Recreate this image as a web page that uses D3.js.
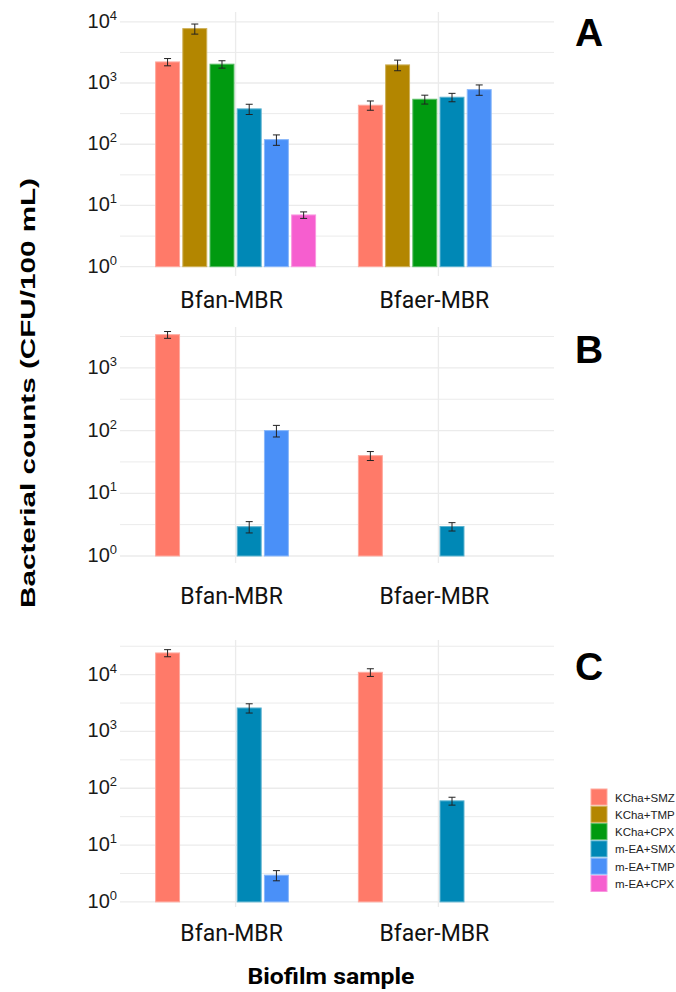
<!DOCTYPE html>
<html>
<head>
<meta charset="utf-8">
<script src="https://cdn.jsdelivr.net/npm/d3@7"></script>
<style>
body { margin: 0; background: #fff; }
.grid line { stroke: #ebebeb; }
.tick-lab { font-family: "Liberation Sans", Arial, sans-serif; fill: #1a1a1a; }
.cat-lab { font-family: Roboto, sans-serif; fill: #111; }
</style>
</head>
<body>
<svg width="676" height="992"></svg>
<script>

// categories
var samples = ["Bfan-MBR", "Bfaer-MBR"];
var treatments = ["KCha+SMZ", "KCha+TMP", "KCha+CPX", "m-EA+SMX", "m-EA+TMP", "m-EA+CPX"];
var colors = ["#ff7a69", "#b38600", "#009a10", "#0088b6", "#4a90f8", "#f65ecf"];

// panel A (means and sd, CFU/100 mL), null = no bar
var aBfan = [2210, 7740, 2030, 378, 119, 7.0];
var aBfanSd = [300, 1450, 280, 72, 23, 0.85];
var aBfaer = [434, 1977, 543, 586, 780, null];
var aBfaerSd = [75, 390, 90, 92, 150, null];

// panel B
var bBfan = [3380, null, null, 2.93, 100, null];
var bBfanSd = [420, null, null, 0.6, 21, null];
var bBfaer = [39.8, null, null, 2.95, null, null];
var bBfaerSd = [6.5, null, null, 0.45, null, null];

// panel C
var cBfan = [24100, null, null, 2590, 2.95, null];
var cBfanSd = [3450, null, null, 480, 0.6, null];
var cBfaer = [11000, null, null, 60, null, null];
var cBfaerSd = [1700, null, null, 9.5, null, null];

var svg = d3.select("svg");
var plotLeft = 120, plotRight = 554;

var panels = [
  {letter: "A", top: 12, bottom: 276, lo: -0.152, hi: 4.16, labY: 308, letY: 46,
   means: [aBfan, aBfaer], sds: [aBfanSd, aBfaerSd]},
  {letter: "B", top: 327, bottom: 563, lo: -0.112, hi: 3.652, labY: 604, letY: 363,
   means: [bBfan, bBfaer], sds: [bBfanSd, bBfaerSd]},
  {letter: "C", top: 640, bottom: 907, lo: -0.09, hi: 4.61, labY: 941, letY: 680,
   means: [cBfan, cBfaer], sds: [cBfanSd, cBfaerSd]}
];

var x = d3.scalePoint().domain(samples).range([plotLeft, plotRight]).padding(0.57);
var xin = d3.scaleBand().domain(treatments).range([-80, 80]).paddingInner(0.12);
var color = d3.scaleOrdinal().domain(treatments).range(colors);

panels.forEach(function(p) {
  var y = d3.scaleLog()
      .domain([Math.pow(10, p.lo), Math.pow(10, p.hi)])
      .range([p.bottom, p.top]);

  var majors = d3.range(0, Math.floor(p.hi) + 1);
  var minors = d3.range(0, Math.floor(p.hi - 0.5) + 1).map(function(k) { return k + 0.5; });

  var g = svg.append("g").attr("class", "grid");
  g.selectAll("line.minor").data(minors).enter().append("line")
      .attr("class", "minor")
      .attr("x1", plotLeft).attr("x2", plotRight)
      .attr("y1", function(d) { return y(Math.pow(10, d)); })
      .attr("y2", function(d) { return y(Math.pow(10, d)); })
      .attr("stroke-width", 1);
  g.selectAll("line.major").data(majors).enter().append("line")
      .attr("class", "major")
      .attr("x1", plotLeft).attr("x2", plotRight)
      .attr("y1", function(d) { return y(Math.pow(10, d)); })
      .attr("y2", function(d) { return y(Math.pow(10, d)); })
      .attr("stroke-width", 1.3);
  g.selectAll("line.vert").data(samples).enter().append("line")
      .attr("class", "vert")
      .attr("x1", function(d) { return x(d); }).attr("x2", function(d) { return x(d); })
      .attr("y1", p.top).attr("y2", p.bottom)
      .attr("stroke-width", 1.3);

  // y tick labels 10^k
  var tl = svg.append("g").selectAll("text").data(majors).enter().append("text")
      .attr("class", "tick-lab")
      .attr("x", 117)
      .attr("y", function(d) { return y(Math.pow(10, d)) + 6; })
      .attr("text-anchor", "end")
      .style("font-size", "20px");
  tl.append("tspan").text("10");
  tl.append("tspan").attr("dy", -8).style("font-size", "13px").text(function(d) { return d; });

  // bars
  var rows = [];
  samples.forEach(function(s, i) {
    treatments.forEach(function(t, j) {
      var m = p.means[i][j];
      if (m != null) rows.push({sample: s, trt: t, mean: m, sd: p.sds[i][j]});
    });
  });

  var bars = svg.append("g");
  bars.selectAll("rect").data(rows).enter().append("rect")
      .attr("x", function(d) { return x(d.sample) + xin(d.trt); })
      .attr("width", xin.bandwidth())
      .attr("y", function(d) { return y(d.mean); })
      .attr("height", function(d) { return y(1) - y(d.mean); })
      .attr("fill", function(d) { return color(d.trt); })
      .attr("stroke", function(d) { return d3.interpolateRgb(color(d.trt), "#fff")(0.35); })
      .attr("stroke-width", 1);

  var eb = svg.append("g").attr("stroke", "#222").attr("stroke-width", 1)
    .selectAll("g").data(rows).enter().append("g")
      .attr("transform", function(d) { return "translate(" + (x(d.sample) + xin(d.trt) + xin.bandwidth() / 2) + ",0)"; });
  eb.append("line")
      .attr("y1", function(d) { return y(d.mean - d.sd); })
      .attr("y2", function(d) { return y(d.mean + d.sd); });
  eb.append("line").attr("x1", -3.5).attr("x2", 3.5)
      .attr("y1", function(d) { return y(d.mean + d.sd); })
      .attr("y2", function(d) { return y(d.mean + d.sd); });
  eb.append("line").attr("x1", -3.5).attr("x2", 3.5)
      .attr("y1", function(d) { return y(d.mean - d.sd); })
      .attr("y2", function(d) { return y(d.mean - d.sd); });

  // category labels
  svg.append("g").selectAll("text").data(samples).enter().append("text")
      .attr("class", "cat-lab")
      .attr("x", function(d) { return x(d) - 4; })
      .attr("y", p.labY)
      .attr("text-anchor", "middle")
      .style("font-size", "23px")
      .text(function(d) { return d; });

  // panel letter
  svg.append("text")
      .attr("x", 575).attr("y", p.letY)
      .style("font-family", "'Liberation Sans', Arial, sans-serif")
      .style("font-weight", "bold")
      .style("font-size", "39px")
      .text(p.letter);
});

// axis titles
svg.append("text")
    .attr("transform", "translate(35,393) rotate(-90)")
    .attr("text-anchor", "middle")
    .attr("textLength", 430)
    .attr("lengthAdjust", "spacingAndGlyphs")
    .style("font-family", "'Liberation Sans', Arial, sans-serif")
    .style("font-weight", "bold")
    .style("font-size", "21px")
    .text("Bacterial counts (CFU/100 mL)");

svg.append("text")
    .attr("x", 331).attr("y", 984)
    .attr("text-anchor", "middle")
    .attr("textLength", 167)
    .attr("lengthAdjust", "spacingAndGlyphs")
    .style("font-family", "Roboto, sans-serif")
    .style("font-weight", "bold")
    .style("font-size", "22px")
    .text("Biofilm sample");

// legend
var leg = svg.append("g").attr("transform", "translate(591,789)");
var li = leg.selectAll("g").data(treatments).enter().append("g")
    .attr("transform", function(d, i) { return "translate(0," + (i * 17.3) + ")"; });
li.append("rect")
    .attr("width", 16).attr("height", 16)
    .attr("fill", function(d) { return color(d); })
    .attr("stroke", function(d) { return d3.interpolateRgb(color(d), "#fff")(0.35); })
    .attr("stroke-width", 1);
li.append("text")
    .attr("x", 24).attr("y", 12.5)
    .style("font-family", "'Liberation Sans', Arial, sans-serif")
    .style("font-size", "11.5px")
    .style("fill", "#222")
    .text(function(d) { return d; });

</script>
</body>
</html>
